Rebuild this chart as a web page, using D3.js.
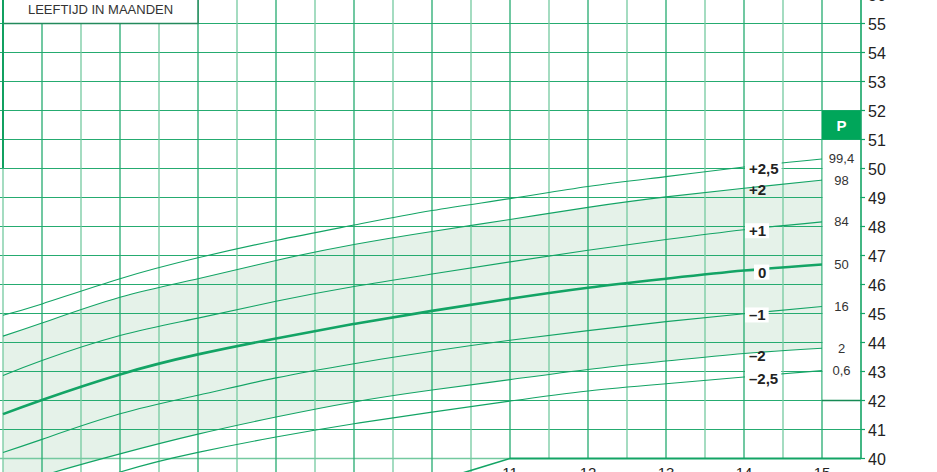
<!DOCTYPE html>
<html>
<head>
<meta charset="utf-8">
<script src="https://cdn.jsdelivr.net/npm/d3@7"></script>
<style>
  html, body { margin: 0; padding: 0; background: #fff; }
  svg { display: block; font-family: "Liberation Sans", Arial, sans-serif; }
</style>
</head>
<body>
<svg id="chart" width="937" height="472"></svg>
<script>
const months   = [4.5, 5, 6, 7, 8, 9, 10, 11, 12, 13, 14, 15]
const sdPlus25 = [44.94, 45.33, 46.20, 46.92, 47.52, 48.05, 48.55, 48.96, 49.38, 49.72, 50.05, 50.33]
const sdPlus2  = [44.22, 44.67, 45.56, 46.20, 46.83, 47.38, 47.83, 48.24, 48.66, 49.02, 49.32, 49.60]
const sdPlus1  = [42.86, 43.38, 44.24, 44.84, 45.42, 45.93, 46.36, 46.78, 47.18, 47.55, 47.89, 48.16]
const sd0      = [41.53, 42.02, 42.90, 43.59, 44.14, 44.64, 45.09, 45.51, 45.89, 46.20, 46.48, 46.69]
const sdMin1   = [40.21, 40.66, 41.54, 42.18, 42.78, 43.27, 43.70, 44.08, 44.41, 44.72, 44.99, 45.24]
const sdMin2   = [38.91, 39.40, 40.16, 40.84, 41.43, 41.95, 42.36, 42.72, 43.07, 43.36, 43.62, 43.80]
const sdMin25  = [38.10, 38.59, 39.53, 40.21, 40.74, 41.20, 41.60, 41.98, 42.33, 42.58, 42.81, 43.03]

const sdLabels  = ["+2,5", "+2", "+1", "0", "\u20131", "\u20132", "\u20132,5"]
const pLabels   = ["99,4", "98", "84", "50", "16", "2", "0,6"]
const yTicks    = d3.range(40, 57)
const xTicks    = [11, 12, 13, 14, 15]
const axisTitle = "LEEFTIJD IN MAANDEN"

const series = [sdPlus25, sdPlus2, sdPlus1, sd0, sdMin1, sdMin2, sdMin25]

const svg = d3.select("#chart")
const W = 937, H = 472
const green = "#13a465", gridDark = "#25ab70", gridLight = "#74c9a0", bandFill = "#e5f2e9"

const x = d3.scaleLinear().domain([4.5, 15.5]).range([3, 861])
const y = d3.scaleLinear().domain([40, 56]).range([458.5, -5.5])

svg.append("rect").attr("width", W).attr("height", H).attr("fill", "#fff")

svg.append("defs").append("clipPath").attr("id", "plot")
  .append("rect").attr("x", 0).attr("y", 0).attr("width", x(15)).attr("height", H)

// band tussen -2 en +2 SD
const area = d3.area()
  .x((d, i) => x(months[i]))
  .y0((d, i) => y(sdMin2[i]))
  .y1(d => y(d))
  .curve(d3.curveNatural)
svg.append("path")
  .attr("clip-path", "url(#plot)")
  .attr("d", area(sdPlus2))
  .attr("fill", bandFill)

// raster
const grid = svg.append("g")
grid.selectAll(".h").data(yTicks.filter(v => v > 40)).join("line")
  .attr("x1", 0).attr("x2", x(15.5))
  .attr("y1", d => y(d)).attr("y2", d => y(d))
  .attr("stroke", gridDark).attr("stroke-width", 1.2)
grid.append("line")
  .attr("x1", 0).attr("x2", x(11))
  .attr("y1", y(40)).attr("y2", y(40))
  .attr("stroke", gridLight).attr("stroke-width", 1.3)
grid.selectAll(".v").data(d3.range(4.5, 15.01, 0.5)).join("line")
  .attr("x1", d => x(d)).attr("x2", d => x(d))
  .attr("y1", 0).attr("y2", d => d >= 11 ? y(40) : H)
  .attr("stroke", d => d % 1 === 0 ? gridDark : gridLight)
  .attr("stroke-width", 1.3)

// SD-lijnen
const line = d3.line()
  .x((d, i) => x(months[i]))
  .y(d => y(d))
  .curve(d3.curveNatural)
svg.append("g").attr("clip-path", "url(#plot)")
  .selectAll("path").data(series).join("path")
  .attr("d", d => line(d))
  .attr("fill", "none")
  .attr("stroke", green)
  .attr("stroke-width", (d, i) => i === 3 ? 2.6 : 1.1)

// kolom met percentielen
svg.append("rect")
  .attr("x", x(15) + 0.7).attr("y", y(51) + 0.6)
  .attr("width", x(15.5) - x(15) - 1.4).attr("height", y(42) - y(51) - 0.6)
  .attr("fill", "#fff")
svg.append("line")
  .attr("x1", x(15)).attr("x2", x(15.5))
  .attr("y1", y(42)).attr("y2", y(42))
  .attr("stroke", "#168a55").attr("stroke-width", 1.5)
svg.append("rect")
  .attr("x", x(15)).attr("y", y(52))
  .attr("width", x(15.5) - x(15)).attr("height", y(51) - y(52))
  .attr("fill", "#00a65a")
svg.append("text")
  .attr("x", (x(15) + x(15.5)) / 2).attr("y", (y(52) + y(51)) / 2)
  .attr("text-anchor", "middle").attr("dominant-baseline", "central")
  .attr("fill", "#fff").attr("font-weight", "bold").attr("font-size", 15)
  .text("P")

svg.append("g").selectAll("text").data(pLabels).join("text")
  .attr("x", (x(15) + x(15.5)) / 2)
  .attr("y", (d, i) => y(series[i][series[i].length - 1]))
  .attr("text-anchor", "middle").attr("dominant-baseline", "central")
  .attr("font-size", 13).attr("fill", "#333")
  .text(d => d)

// SD-labels
const at = (s, m) => {
  const i = months.indexOf(14)
  return s[i] + (m - 14) * (s[i + 1] - s[i])
}
const lab = svg.append("g")
sdLabels.forEach((t, i) => {
  const g = lab.append("g")
  const tx = g.append("text")
    .attr("x", i === 3 ? x(14) + 14 : x(14) + 5)
    .attr("y", y(at(series[i], 14.25)) + 3)
    .attr("dominant-baseline", "central")
    .attr("font-size", 15).attr("font-weight", "bold").attr("fill", "#222")
    .text(t)
  if (i !== 1 && i !== 5) {
    const b = tx.node().getBBox()
    g.insert("rect", "text")
      .attr("x", b.x - 4).attr("y", b.y + 1)
      .attr("width", b.width + 7).attr("height", b.height - 2)
      .attr("fill", "#fff")
  }
})

// titelvak
svg.append("rect")
  .attr("x", x(4.5)).attr("y", -2)
  .attr("width", x(7) - x(4.5)).attr("height", y(55) + 2)
  .attr("fill", "#fff").attr("stroke", "#238a5c").attr("stroke-width", 1.5)
svg.append("text")
  .attr("x", (x(4.5) + x(7)) / 2).attr("y", y(55) / 2 - 2)
  .attr("text-anchor", "middle").attr("dominant-baseline", "central")
  .attr("font-size", 13).attr("fill", "#333")
  .text(axisTitle)
svg.append("line")
  .attr("x1", x(4.5)).attr("x2", x(4.5))
  .attr("y1", 0).attr("y2", y(50))
  .attr("stroke", "#11a060").attr("stroke-width", 2)

// assen
const ax = svg.append("g")
ax.append("line")
  .attr("x1", x(15.5)).attr("x2", x(15.5))
  .attr("y1", 0).attr("y2", y(40))
  .attr("stroke", green).attr("stroke-width", 1.6)
ax.append("line")
  .attr("x1", x(11)).attr("x2", x(15.5))
  .attr("y1", y(40)).attr("y2", y(40))
  .attr("stroke", green).attr("stroke-width", 2.2)
ax.append("line")
  .attr("x1", x(11)).attr("y1", y(40))
  .attr("x2", x(10.2)).attr("y2", y(40) + (x(11) - x(10.2)) * 0.305)
  .attr("stroke", green).attr("stroke-width", 1.6)
ax.selectAll(".tick").data(yTicks).join("line")
  .attr("x1", x(15.5)).attr("x2", x(15.5) + 4)
  .attr("y1", d => y(d)).attr("y2", d => y(d))
  .attr("stroke", green).attr("stroke-width", 1.2)
ax.selectAll(".yl").data(yTicks).join("text")
  .attr("x", x(15.5) + 7).attr("y", d => y(d) + 1)
  .attr("dominant-baseline", "central")
  .attr("font-size", 16).attr("fill", "#222")
  .text(d => d)
ax.selectAll(".xl").data(xTicks).join("text")
  .attr("x", d => x(d)).attr("y", y(40) + 19)
  .attr("text-anchor", "middle")
  .attr("font-size", 15).attr("fill", "#222")
  .text(d => d)
</script>
</body>
</html>
